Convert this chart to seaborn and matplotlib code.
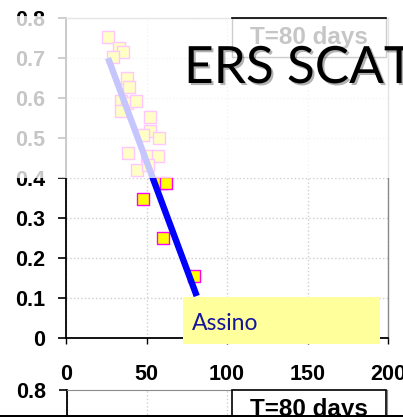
import matplotlib
matplotlib.use("Agg")
import matplotlib.pyplot as plt
import matplotlib.patheffects as pe
from matplotlib.patches import Rectangle
from matplotlib.lines import Line2D
import seaborn as sns

W, H = 403, 417

# ---- data ----
days = [25.9, 32.9, 35.6, 29.4, 38.1, 39.1, 34.2, 37.7, 43.7, 34.2, 52.4, 52.2,
        58.0, 48.0, 38.7, 50.1, 57.3, 43.9, 51.1, 58.8, 62.1, 47.6, 60.4, 79.5]
ratio = [0.752, 0.724, 0.714, 0.703, 0.651, 0.627, 0.593, 0.587, 0.593, 0.567, 0.553, 0.518,
         0.499, 0.507, 0.463, 0.455, 0.455, 0.420, 0.432, 0.388, 0.388, 0.347, 0.251, 0.156]
fit_days = [26.1, 81.2]
fit_ratio = [0.700, 0.105]
x_ticks = [0, 50, 100, 150, 200]
x_tick_labels = ["0", "50", "100", "150", "200"]
y_ticks = [0, 0.1, 0.2, 0.3, 0.4, 0.5, 0.6, 0.7, 0.8]
y_tick_labels = ["0", "0.1", "0.2", "0.3", "0.4", "0.5", "0.6", "0.7", "0.8"]
title_text = "ERS SCAT"
box_text = "T=80 days"
label_text = "Assino"


def fx(x):
    return x / W


def fy(y):
    return 1 - y / H


fig = plt.figure(figsize=(W / 100, H / 100), dpi=100)
fig.patch.set_facecolor("white")

TICKFONT = dict(family="Liberation Sans", weight="bold", size=15.5)

# ---------------- main axes ----------------
ax = fig.add_axes([fx(66), fy(338), (388 - 66) / W, 320 / H])
sns.scatterplot(x=days, y=ratio, marker="s", s=72, color="#FFFF00",
                edgecolor="#FF00FF", linewidth=1.0, ax=ax, zorder=3, legend=False)
sns.lineplot(x=fit_days, y=fit_ratio, color="#0000FF", linewidth=4.6, ax=ax,
             zorder=4, solid_capstyle="butt", legend=False)
ax.set_xlim(0, 200)
ax.set_ylim(0, 0.8)
ax.set_xticks(x_ticks)
ax.set_xticklabels(x_tick_labels, **TICKFONT)
ax.set_yticks(y_ticks)
ax.set_yticklabels(y_tick_labels, **TICKFONT)
ax.set_xlabel("")
ax.set_ylabel("")
ax.grid(True, color="#cfcfcf", linestyle=":", linewidth=1.0)
ax.set_axisbelow(True)
for s in ["left", "bottom"]:
    ax.spines[s].set_color("black")
    ax.spines[s].set_linewidth(1.3)
for s in ["top", "right"]:
    ax.spines[s].set_color("#8a8a8a")
    ax.spines[s].set_linewidth(1.0)
ax.tick_params(axis="y", length=5.8, width=1.2, color="black", pad=9.4)
ax.tick_params(axis="x", length=4, width=1.0, color="black", pad=15)

# ---------------- lower (second) axes, mostly cut off ----------------
ax2 = fig.add_axes([fx(67), fy(710), 320 / W, 320 / H])
ax2.set_xlim(0, 200)
ax2.set_ylim(0, 0.8)
ax2.set_xticks(x_ticks)
ax2.set_xticklabels([])
ax2.tick_params(axis="x", length=0)
ax2.set_yticks(y_ticks[-1:])
ax2.set_yticklabels(y_tick_labels[-1:], **TICKFONT)
ax2.grid(True, axis="x", color="#cfcfcf", linestyle=":", linewidth=1.0)
ax2.set_axisbelow(True)
ax2.spines["left"].set_color("black")
ax2.spines["left"].set_linewidth(1.3)
for s in ["top", "right"]:
    ax2.spines[s].set_color("#8a8a8a")
ax2.tick_params(axis="y", length=5.8, width=1.2, color="black", pad=9.4)

# ---------------- annotations in the top panel ----------------
fig.add_artist(Rectangle((fx(232), fy(57)), 154 / W, 39 / H, transform=fig.transFigure,
                         facecolor="white", edgecolor="#222222", linewidth=1.0, zorder=5))
fig.text(fx(309), fy(37.5), box_text, ha="center", va="center", color="black",
         zorder=6, **dict(TICKFONT, size=17.5))

# yellow label box
fig.add_artist(Rectangle((fx(183), fy(344)), 197 / W, 47 / H, transform=fig.transFigure,
                         facecolor="#FFFF9C", edgecolor="none", zorder=5))
fig.text(fx(191.5), fy(330), label_text, ha="left", va="baseline", color="#14149c",
         family="Lato", size=16.5, zorder=6)

# semi-transparent white overlay (slide fade)
fig.add_artist(Rectangle((0, fy(177.5)), 1, (177.5 - 16.5) / H, transform=fig.transFigure,
                         facecolor="white", edgecolor="none", alpha=0.78, zorder=10))
fig.add_artist(Line2D([fx(232), fx(386)], [fy(18), fy(18)], transform=fig.transFigure,
                      color="black", linewidth=1.2, zorder=11))

# big slide title
fig.text(fx(184), fy(83), title_text, ha="left", va="baseline", color="black",
         family="Lato", size=37, zorder=12,
         path_effects=[pe.withSimplePatchShadow(offset=(1.5, -1.5), shadow_rgbFace="black",
                                                alpha=0.3)])

# ---------------- annotations in the lower panel ----------------
fig.add_artist(Rectangle((fx(232), fy(440)), 154 / W, 50 / H, transform=fig.transFigure,
                         facecolor="white", edgecolor="black", linewidth=1.2, zorder=5))
fig.text(fx(309), fy(409.5), box_text, ha="center", va="center", color="black",
         zorder=6, **dict(TICKFONT, size=17.5))
fig.add_artist(Rectangle((0, 0), 1, 2.5 / H, transform=fig.transFigure,
                         facecolor="black", edgecolor="none", zorder=13))

fig.savefig("out.png", dpi=100)
